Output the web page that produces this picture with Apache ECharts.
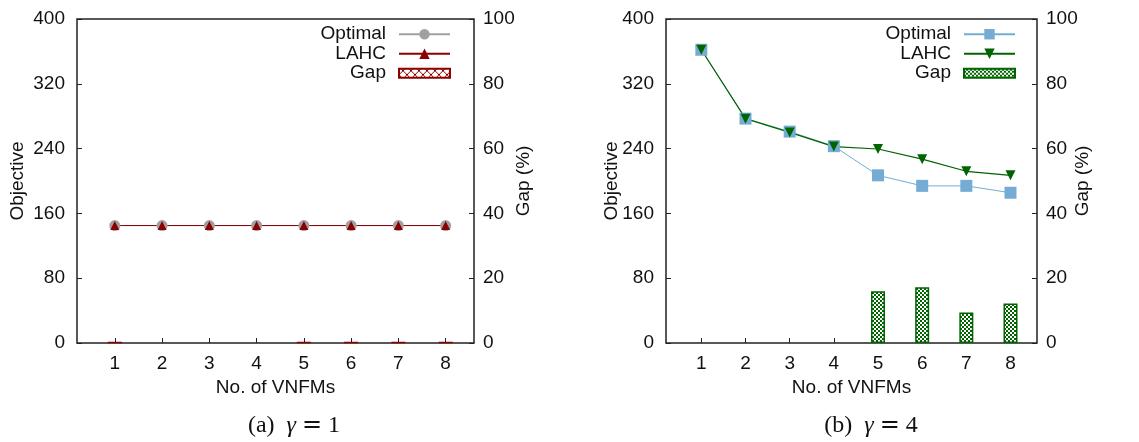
<!DOCTYPE html>
<html>
<head>
<meta charset="utf-8">
<script src="https://cdn.jsdelivr.net/npm/echarts@6/dist/echarts.min.js"></script>
<style>
  html, body { margin: 0; padding: 0; background: #fff; }
  #chart { width: 1139px; height: 442px; }
</style>
</head>
<body>
<div id="chart"></div>
<script>
// Number of VNFMs on the x axis
const vnfms = [1, 2, 3, 4, 5, 6, 7, 8];
const objTicks = [0, 80, 160, 240, 320, 400];
const gapTicks = [0, 20, 40, 60, 80, 100];

// (a) gamma = 1  ('-' = no gap box drawn)
const optimalA = [145, 145, 145, 145, 145, 145, 145, 145];
const lahcA    = [145, 145, 145, 145, 145, 145, 145, 145];
const gapA     = [0.3, '-', '-', '-', 0.3, 0.3, 0.3, 0.3];

// (b) gamma = 4
const optimalB = [362, 277, 261, 243, 207, 194, 194, 185.5];
const lahcB    = [362, 277, 260, 242.5, 239.5, 227, 212, 207];
const gapB     = ['-', '-', '-', '-', 16, 17.2, 9.4, 12.2];

const FONT = '"Liberation Sans", Arial, sans-serif';
const FS = 19;

function pairs(ys) { return vnfms.map((x, i) => [x, ys[i]]); }

// Fill patterns for the gap boxes
function crossPattern(color) {
  const c = document.createElement('canvas');
  c.width = 8; c.height = 8;
  const g = c.getContext('2d');
  g.fillStyle = '#fff'; g.fillRect(0, 0, 8, 8);
  g.strokeStyle = color; g.lineWidth = 1;
  g.beginPath();
  g.moveTo(0, 0); g.lineTo(8, 8);
  g.moveTo(8, 0); g.lineTo(0, 8);
  g.stroke();
  return c;
}
function checkerPattern(color) {
  const c = document.createElement('canvas');
  c.width = 4; c.height = 4;
  const g = c.getContext('2d');
  g.fillStyle = '#fff'; g.fillRect(0, 0, 4, 4);
  g.fillStyle = color;
  g.fillRect(0, 0, 2, 2); g.fillRect(2, 2, 2, 2);
  return c;
}

const RED = '#8b0000';
const GREY = '#a0a0a0';
const BLUE = '#74acd4';
const GREEN = '#006400';
const TEXT = '#111';

const grids = [
  { left: 77, right: 665, top: 19, bottom: 99 },
  { left: 666, right: 102, top: 19, bottom: 99 }
];

function xAxis(gi) {
  return {
    type: 'value', gridIndex: gi, min: 0.2, max: 8.6,
    axisLine: { show: false },
    splitLine: { show: false },
    axisTick: { inside: true, length: 5, lineStyle: { color: '#222', width: 1 }, customValues: vnfms },
    axisLabel: { customValues: vnfms, color: TEXT, fontSize: FS, fontFamily: FONT, margin: 11 },
    name: 'No. of VNFMs', nameLocation: 'middle', nameGap: 35, nameMoveOverlap: false,
    nameTextStyle: { color: TEXT, fontSize: FS, fontFamily: FONT }
  };
}
function yLeft(gi) {
  return {
    type: 'value', gridIndex: gi, position: 'left', min: 0, max: 400, interval: 80,
    axisLine: { show: false }, splitLine: { show: false },
    axisTick: { inside: true, length: 5, lineStyle: { color: '#222', width: 1 } },
    axisLabel: { color: TEXT, fontSize: FS, fontFamily: FONT, margin: 12 },
    name: 'Objective', nameLocation: 'middle', nameGap: gi === 0 ? 49.5 : 44.5, nameRotate: 90,
    nameMoveOverlap: false,
    nameTextStyle: { color: TEXT, fontSize: FS, fontFamily: FONT }
  };
}
function yRight(gi) {
  return {
    type: 'value', gridIndex: gi, position: 'right', min: 0, max: 100, interval: 20,
    axisLine: { show: false }, splitLine: { show: false },
    axisTick: { inside: true, length: 5, lineStyle: { color: '#222', width: 1 } },
    axisLabel: { color: TEXT, fontSize: FS, fontFamily: FONT, margin: 9 },
    name: 'Gap (%)', nameLocation: 'middle', nameGap: gi === 0 ? 40.5 : 36.5, nameRotate: 90,
    nameMoveOverlap: false,
    nameTextStyle: { color: TEXT, fontSize: FS, fontFamily: FONT }
  };
}

const GAP_ICON = 'path://M0,0h51v9h-51z';

const legendBase = {
  orient: 'vertical', align: 'right', top: 24.5, padding: 0,
  itemWidth: 51, itemHeight: 13, itemGap: 0, symbolKeepAspect: true,
  textStyle: { fontSize: FS, fontFamily: FONT, color: TEXT, width: 80, align: 'right', lineHeight: 19.5, padding: [0, 8, 0, 0] },
  formatter: n => n.split('|')[0],
  selectedMode: false
};

const SERIF = '"Liberation Serif", serif';
const captionStyle = {
  fontFamily: SERIF, fontSize: 24, fontWeight: 'normal', color: TEXT,
  rich: {
    g: { fontFamily: SERIF, fontStyle: 'italic', fontSize: 24, color: TEXT },
    e: { fontFamily: '"DejaVu Serif", serif', fontSize: 24, color: TEXT }
  }
};

const option = {
  animation: false,
  backgroundColor: '#fff',
  grid: grids.map(g => Object.assign({ show: true, borderColor: '#222', borderWidth: 1.5, backgroundColor: 'transparent' }, g)),
  xAxis: [xAxis(0), xAxis(1)],
  yAxis: [yLeft(0), yRight(0), yLeft(1), yRight(1)],
  legend: [
    Object.assign({}, legendBase, { right: 688,
      data: ['Optimal|a', 'LAHC|a', { name: 'Gap|a', icon: GAP_ICON }] }),
    Object.assign({}, legendBase, { right: 123,
      data: ['Optimal|b', 'LAHC|b', { name: 'Gap|b', icon: GAP_ICON }] })
  ],
  title: [
    { text: '(a)  {g|γ} {e|=} 1', left: 289, top: 409, textAlign: 'center', textStyle: captionStyle },
    { text: '(b)  {g|γ} {e|=} 4', left: 866, top: 409, textAlign: 'center', textStyle: captionStyle }
  ],
  series: [
    { name: 'Gap|a', type: 'bar', xAxisIndex: 0, yAxisIndex: 1, barWidth: 15, data: pairs(gapA),
      itemStyle: { color: { image: crossPattern(RED), repeat: 'repeat' }, borderColor: RED, borderWidth: 1.5 } },
    { name: 'Optimal|a', type: 'line', xAxisIndex: 0, yAxisIndex: 0, data: pairs(optimalA),
      symbol: 'circle', symbolSize: 11, color: GREY, lineStyle: { color: GREY, width: 1 }, itemStyle: { color: GREY } },
    { name: 'LAHC|a', type: 'line', xAxisIndex: 0, yAxisIndex: 0, data: pairs(lahcA),
      symbol: 'triangle', symbolSize: 9, color: RED, lineStyle: { color: RED, width: 1 }, itemStyle: { color: RED } },

    { name: 'Gap|b', type: 'bar', xAxisIndex: 1, yAxisIndex: 3, barWidth: 14, data: pairs(gapB),
      itemStyle: { color: { image: checkerPattern(GREEN), repeat: 'repeat' }, borderColor: GREEN, borderWidth: 1.5 } },
    { name: 'Optimal|b', type: 'line', xAxisIndex: 1, yAxisIndex: 2, data: pairs(optimalB),
      symbol: 'rect', symbolSize: 12, color: BLUE, lineStyle: { color: BLUE, width: 1 }, itemStyle: { color: BLUE } },
    { name: 'LAHC|b', type: 'line', xAxisIndex: 1, yAxisIndex: 2, data: pairs(lahcB),
      symbol: 'triangle', symbolRotate: 180, symbolSize: 10, color: GREEN, lineStyle: { color: GREEN, width: 1.2 }, itemStyle: { color: GREEN } }
  ]
};

const chart = echarts.init(document.getElementById('chart'), null, { renderer: 'canvas' });
chart.setOption(option);
</script>
</body>
</html>
